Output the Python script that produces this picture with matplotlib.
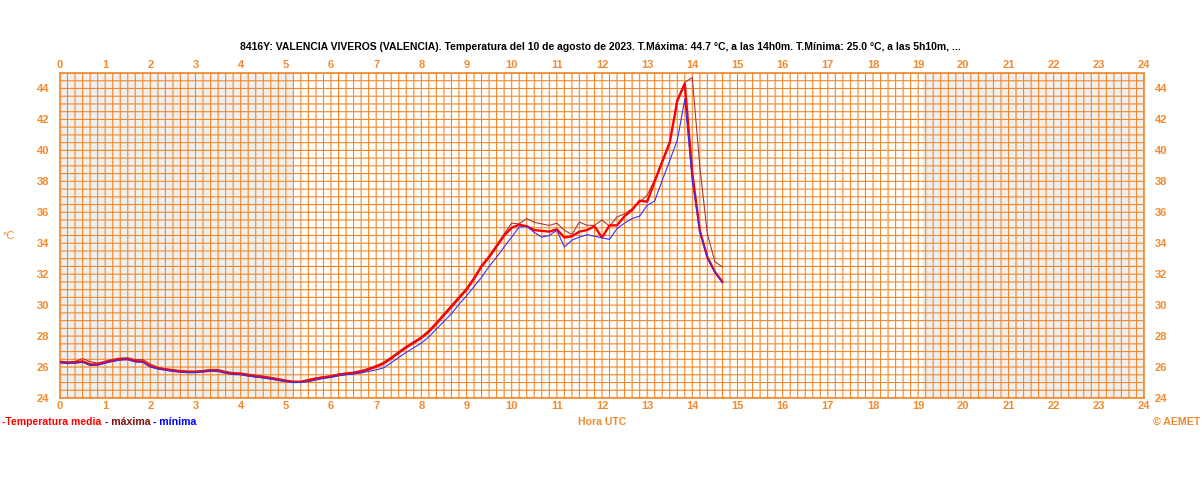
import numpy as np
import matplotlib
matplotlib.use("Agg")
import matplotlib.pyplot as plt

# ---------------- data ----------------
hours_step_min = 10
media = [26.32, 26.27, 26.30, 26.37, 26.17, 26.17, 26.30, 26.42, 26.50, 26.52,
         26.38, 26.36, 26.06, 25.92, 25.84, 25.77, 25.71, 25.68, 25.68, 25.72,
         25.78, 25.76, 25.64, 25.57, 25.56, 25.46, 25.40, 25.34, 25.27, 25.18,
         25.10, 25.04, 25.05, 25.15, 25.25, 25.33, 25.38, 25.50, 25.56, 25.61,
         25.70, 25.85, 26.02, 26.23, 26.56, 26.92, 27.27, 27.57, 27.88, 28.28,
         28.80, 29.35, 29.90, 30.45, 31.00, 31.70, 32.50, 33.10, 33.80, 34.50,
         35.00, 35.20, 35.10, 34.85, 34.80, 34.75, 34.90, 34.37, 34.45, 34.75,
         34.85, 35.10, 34.37, 35.15, 35.16, 35.75, 36.15, 36.75, 36.68, 38.00,
         39.25, 40.50, 43.20, 44.30, 38.50, 34.80, 33.10, 32.15, 31.50]
minima = [26.28, 26.22, 26.25, 26.30, 26.10, 26.12, 26.25, 26.36, 26.45, 26.48,
          26.33, 26.30, 26.00, 25.88, 25.80, 25.72, 25.66, 25.64, 25.64, 25.68,
          25.73, 25.72, 25.60, 25.52, 25.50, 25.42, 25.35, 25.30, 25.22, 25.14,
          25.06, 25.00, 25.01, 25.05, 25.16, 25.26, 25.33, 25.43, 25.50, 25.55,
          25.62, 25.72, 25.82, 25.95, 26.28, 26.62, 26.95, 27.25, 27.55, 27.95,
          28.45, 28.95, 29.45, 30.05, 30.60, 31.20, 31.80, 32.50, 33.10, 33.76,
          34.40, 35.05, 35.10, 34.70, 34.40, 34.50, 34.84, 33.76, 34.20, 34.40,
          34.55, 34.45, 34.35, 34.25, 34.95, 35.30, 35.60, 35.75, 36.45, 36.73,
          38.06, 39.35, 40.65, 43.30, 38.00, 34.75, 33.05, 32.10, 31.45]
maxima = [26.38, 26.33, 26.36, 26.55, 26.35, 26.25, 26.38, 26.50, 26.58, 26.60,
          26.48, 26.48, 26.20, 25.98, 25.90, 25.84, 25.78, 25.74, 25.74, 25.78,
          25.85, 25.84, 25.72, 25.64, 25.62, 25.55, 25.48, 25.42, 25.34, 25.26,
          25.16, 25.08, 25.06, 25.20, 25.30, 25.38, 25.44, 25.56, 25.62, 25.68,
          25.78, 25.92, 26.10, 26.32, 26.65, 27.00, 27.35, 27.65, 27.96, 28.38,
          28.90, 29.45, 30.00, 30.55, 31.10, 31.80, 32.60, 33.20, 33.90, 34.60,
          35.30, 35.25, 35.60, 35.35, 35.25, 35.15, 35.30, 34.84, 34.56, 35.37,
          35.16, 35.16, 35.50, 35.10, 35.70, 35.90, 36.23, 36.66, 37.10, 38.10,
          39.35, 40.60, 43.30, 44.40, 44.70, 38.90, 34.60, 32.80, 32.47]
hours = np.arange(len(media)) * hours_step_min / 60.0

night_periods = [(0.0, 5.17), (19.1, 24.0)]
x_ticks = list(range(0, 25))
y_ticks = list(range(24, 45, 2))

title = ("8416Y: VALENCIA VIVEROS (VALENCIA). Temperatura del 10 de agosto de 2023. "
         "T.Máxima: 44.7 °C, a las 14h0m. T.Mínima: 25.0 °C, a las 5h10m, ...")

# ---------------- style ----------------
ORANGE = "#F5872A"
TXT_OR = "#F08A30"
plt.rcParams['font.family'] = ['Liberation Sans', 'DejaVu Sans']

fig = plt.figure(figsize=(12.04, 4.82), dpi=100)
W, H = 1204, 482
ax = fig.add_axes([60 / W, 1 - 398 / H, (1144 - 60) / W, (398 - 73) / H])
ax.set_xlim(0, 24)
ax.set_ylim(24, 45)

for a, b in night_periods:
    ax.axvspan(a, b, color="#EFEFEF", lw=0, zorder=0)

# grid: every 10 minutes and every 0.5 degC (not pixel-snapped, like the original)
for xv in np.arange(0, 24.001, 1 / 6):
    ax.axvline(xv, color=ORANGE, lw=0.8, zorder=2, snap=False)
for yv in np.arange(24, 45.001, 0.5):
    ax.axhline(yv, color=ORANGE, lw=0.8, zorder=2, snap=False)

for s in ax.spines.values():
    s.set_color(ORANGE)
    s.set_linewidth(1.2)

ax.plot(hours, maxima, color="#A03A3A", lw=0.8, zorder=4)
ax.plot(hours, media, color="#FF0000", lw=1.7, zorder=5)
ax.plot(hours, minima, color="#3030FF", lw=0.8, zorder=6)

ax.set_xticks(x_ticks)
ax.set_yticks(y_ticks)
ax.tick_params(axis='both', length=0, labelsize=8, labelcolor=TXT_OR)
ax.tick_params(axis='x', labeltop=True, labelbottom=True, pad=2)
ax.tick_params(axis='y', labelleft=True, labelright=True, pad=8)
for lab in ax.get_xticklabels() + ax.get_yticklabels():
    lab.set_fontweight('bold')

fs = 7.6
fig.text(600 / W, 1 - 47 / H, title, ha='center', va='center', fontsize=7.5,
         fontweight='bold', color='black')
fig.text(2 / W, 1 - 236 / H, "°C", ha='left', va='center', fontsize=8, color=TXT_OR)
fig.text(602 / W, 1 - 422 / H, "Hora UTC", ha='center', va='center', fontsize=fs,
         color=TXT_OR, fontweight='bold')
fig.text(1200 / W, 1 - 422 / H, "© AEMET", ha='right', va='center', fontsize=fs,
         color=TXT_OR, fontweight='bold')
fig.text(2 / W, 1 - 422 / H, "-Temperatura media", ha='left', va='center', fontsize=fs,
         color="#FF0000", fontweight='bold')
fig.text(105 / W, 1 - 422 / H, "- máxima", ha='left', va='center', fontsize=fs,
         color="#7A1010", fontweight='bold')
fig.text(153 / W, 1 - 422 / H, "- mínima", ha='left', va='center', fontsize=fs,
         color="#0000FF", fontweight='bold')

fig.savefig("out.png", dpi=100)
